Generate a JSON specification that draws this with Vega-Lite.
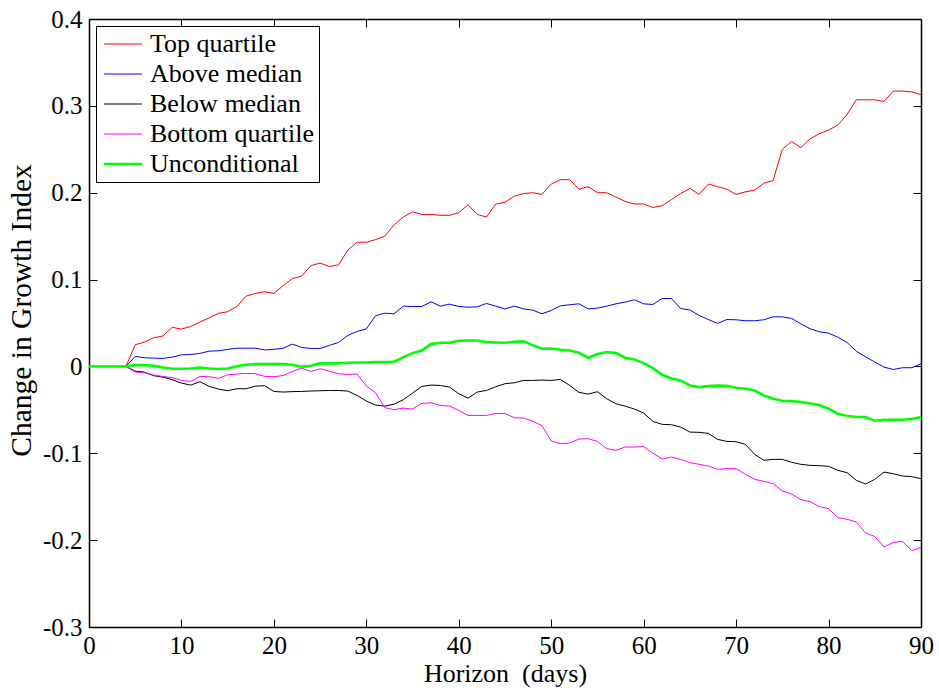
{
  "$schema": "https://vega.github.io/schema/vega-lite/v6.json",
  "width": 832,
  "height": 608,
  "autosize": {"type": "none"},
  "padding": {"left": 89, "top": 19, "right": 18, "bottom": 63},
  "background": "white",
  "config": {
    "view": {"stroke": null},
    "font": "Liberation Serif",
    "style": {
      "guide-label": {"font": "Liberation Serif", "fill": "black"},
      "guide-title": {"font": "Liberation Serif", "fill": "black", "fontWeight": "normal"}
    },
    "axis": {
      "grid": false,
      "domainColor": "black",
      "domainWidth": 1.5,
      "tickColor": "black",
      "tickWidth": 1,
      "tickSize": -8,
      "labelFont": "Liberation Serif",
      "labelFontSize": 25,
      "labelColor": "black",
      "titleFont": "Liberation Serif",
      "titleFontSize": 26,
      "titleFontWeight": "normal",
      "titleColor": "black"
    },
    "legend": {
      "orient": "none",
      "legendX": 7,
      "legendY": 7,
      "strokeColor": "black",
      "fillColor": "white",
      "padding": 5,
      "labelFont": "Liberation Serif",
      "labelFontSize": 26,
      "labelColor": "black",
      "labelLimit": 400,
      "labelOffset": 14,
      "symbolOffset": 9,
      "rowPadding": 4,
      "symbolType": "M-2,0H2",
      "symbolSize": 361,
      "symbolFillColor": "transparent",
      "title": null
    }
  },
  "data": {
    "values": [
      {"h":0,"Top quartile":0,"Above median":0,"Below median":0,"Bottom quartile":0,"Unconditional":0},
      {"h":1,"Top quartile":0,"Above median":0,"Below median":0,"Bottom quartile":0,"Unconditional":0},
      {"h":2,"Top quartile":0,"Above median":0,"Below median":0,"Bottom quartile":0,"Unconditional":0},
      {"h":3,"Top quartile":0,"Above median":0,"Below median":0,"Bottom quartile":0,"Unconditional":0},
      {"h":4,"Top quartile":0,"Above median":0,"Below median":0,"Bottom quartile":0,"Unconditional":0},
      {"h":5,"Top quartile":0.025,"Above median":0.0115,"Below median":-0.0054,"Bottom quartile":-0.0065,"Unconditional":0.0015},
      {"h":6,"Top quartile":0.028,"Above median":0.010,"Below median":-0.0065,"Bottom quartile":-0.0073,"Unconditional":0.0015},
      {"h":7,"Top quartile":0.033,"Above median":0.0096,"Below median":-0.0107,"Bottom quartile":-0.010,"Unconditional":0.0008},
      {"h":8,"Top quartile":0.035,"Above median":0.0092,"Below median":-0.0123,"Bottom quartile":-0.0115,"Unconditional":-0.0012},
      {"h":9,"Top quartile":0.045,"Above median":0.0107,"Below median":-0.0153,"Bottom quartile":-0.013,"Unconditional":-0.0027},
      {"h":10,"Top quartile":0.043,"Above median":0.0134,"Below median":-0.0192,"Bottom quartile":-0.0161,"Unconditional":-0.0027},
      {"h":11,"Top quartile":0.046,"Above median":0.0138,"Below median":-0.0215,"Bottom quartile":-0.0173,"Unconditional":-0.0023},
      {"h":12,"Top quartile":0.051,"Above median":0.015,"Below median":-0.0176,"Bottom quartile":-0.0115,"Unconditional":-0.0012},
      {"h":13,"Top quartile":0.056,"Above median":0.0176,"Below median":-0.023,"Bottom quartile":-0.0119,"Unconditional":-0.0023},
      {"h":14,"Top quartile":0.061,"Above median":0.018,"Below median":-0.0261,"Bottom quartile":-0.0138,"Unconditional":-0.003},
      {"h":15,"Top quartile":0.063,"Above median":0.0196,"Below median":-0.028,"Bottom quartile":-0.0096,"Unconditional":-0.0023},
      {"h":16,"Top quartile":0.069,"Above median":0.021,"Below median":-0.0257,"Bottom quartile":-0.0088,"Unconditional":0.0003},
      {"h":17,"Top quartile":0.081,"Above median":0.021,"Below median":-0.0257,"Bottom quartile":-0.008,"Unconditional":0.002},
      {"h":18,"Top quartile":0.084,"Above median":0.021,"Below median":-0.0227,"Bottom quartile":-0.0084,"Unconditional":0.0027},
      {"h":19,"Top quartile":0.086,"Above median":0.019,"Below median":-0.0222,"Bottom quartile":-0.0115,"Unconditional":0.0027},
      {"h":20,"Top quartile":0.084,"Above median":0.0196,"Below median":-0.0288,"Bottom quartile":-0.0119,"Unconditional":0.0027},
      {"h":21,"Top quartile":0.093,"Above median":0.021,"Below median":-0.0295,"Bottom quartile":-0.0105,"Unconditional":0.0027},
      {"h":22,"Top quartile":0.101,"Above median":0.0257,"Below median":-0.029,"Bottom quartile":-0.0058,"Unconditional":0.002},
      {"h":23,"Top quartile":0.104,"Above median":0.0219,"Below median":-0.0288,"Bottom quartile":-0.0019,"Unconditional":-0.0004},
      {"h":24,"Top quartile":0.116,"Above median":0.0207,"Below median":-0.0283,"Bottom quartile":-0.0058,"Unconditional":0.0008},
      {"h":25,"Top quartile":0.119,"Above median":0.0207,"Below median":-0.028,"Bottom quartile":-0.0027,"Unconditional":0.0038},
      {"h":26,"Top quartile":0.115,"Above median":0.0242,"Below median":-0.0277,"Bottom quartile":-0.0054,"Unconditional":0.0035},
      {"h":27,"Top quartile":0.117,"Above median":0.0276,"Below median":-0.0277,"Bottom quartile":-0.0084,"Unconditional":0.0035},
      {"h":28,"Top quartile":0.134,"Above median":0.0357,"Below median":-0.0284,"Bottom quartile":-0.0092,"Unconditional":0.0042},
      {"h":29,"Top quartile":0.143,"Above median":0.0403,"Below median":-0.0334,"Bottom quartile":-0.0088,"Unconditional":0.0046},
      {"h":30,"Top quartile":0.143,"Above median":0.0433,"Below median":-0.0399,"Bottom quartile":-0.0227,"Unconditional":0.0046},
      {"h":31,"Top quartile":0.146,"Above median":0.0583,"Below median":-0.0445,"Bottom quartile":-0.0303,"Unconditional":0.005},
      {"h":32,"Top quartile":0.150,"Above median":0.0613,"Below median":-0.0457,"Bottom quartile":-0.0475,"Unconditional":0.005},
      {"h":33,"Top quartile":0.163,"Above median":0.0606,"Below median":-0.0434,"Bottom quartile":-0.0498,"Unconditional":0.0054},
      {"h":34,"Top quartile":0.172,"Above median":0.0694,"Below median":-0.0383,"Bottom quartile":-0.048,"Unconditional":0.0107},
      {"h":35,"Top quartile":0.178,"Above median":0.069,"Below median":-0.0307,"Bottom quartile":-0.0491,"Unconditional":0.0153},
      {"h":36,"Top quartile":0.175,"Above median":0.069,"Below median":-0.023,"Bottom quartile":-0.0426,"Unconditional":0.0184},
      {"h":37,"Top quartile":0.175,"Above median":0.0744,"Below median":-0.0215,"Bottom quartile":-0.0418,"Unconditional":0.0257},
      {"h":38,"Top quartile":0.174,"Above median":0.0694,"Below median":-0.0219,"Bottom quartile":-0.0449,"Unconditional":0.0272},
      {"h":39,"Top quartile":0.174,"Above median":0.0717,"Below median":-0.0238,"Bottom quartile":-0.0457,"Unconditional":0.0272},
      {"h":40,"Top quartile":0.177,"Above median":0.069,"Below median":-0.0314,"Bottom quartile":-0.0506,"Unconditional":0.0295},
      {"h":41,"Top quartile":0.186,"Above median":0.0682,"Below median":-0.0365,"Bottom quartile":-0.0564,"Unconditional":0.0299},
      {"h":42,"Top quartile":0.175,"Above median":0.0686,"Below median":-0.0295,"Bottom quartile":-0.0564,"Unconditional":0.0299},
      {"h":43,"Top quartile":0.172,"Above median":0.0725,"Below median":-0.0276,"Bottom quartile":-0.0564,"Unconditional":0.028},
      {"h":44,"Top quartile":0.187,"Above median":0.0694,"Below median":-0.0234,"Bottom quartile":-0.0541,"Unconditional":0.0276},
      {"h":45,"Top quartile":0.189,"Above median":0.0663,"Below median":-0.0199,"Bottom quartile":-0.0541,"Unconditional":0.0272},
      {"h":46,"Top quartile":0.196,"Above median":0.0694,"Below median":-0.0188,"Bottom quartile":-0.059,"Unconditional":0.0284},
      {"h":47,"Top quartile":0.199,"Above median":0.0663,"Below median":-0.0161,"Bottom quartile":-0.0594,"Unconditional":0.0288},
      {"h":48,"Top quartile":0.200,"Above median":0.0648,"Below median":-0.0161,"Bottom quartile":-0.0629,"Unconditional":0.0245},
      {"h":49,"Top quartile":0.198,"Above median":0.0606,"Below median":-0.0157,"Bottom quartile":-0.0683,"Unconditional":0.0203},
      {"h":50,"Top quartile":0.210,"Above median":0.0644,"Below median":-0.0161,"Bottom quartile":-0.0859,"Unconditional":0.0207},
      {"h":51,"Top quartile":0.215,"Above median":0.0698,"Below median":-0.015,"Bottom quartile":-0.089,"Unconditional":0.0192},
      {"h":52,"Top quartile":0.215,"Above median":0.071,"Below median":-0.0219,"Bottom quartile":-0.0882,"Unconditional":0.0184},
      {"h":53,"Top quartile":0.204,"Above median":0.0721,"Below median":-0.0299,"Bottom quartile":-0.0836,"Unconditional":0.0157},
      {"h":54,"Top quartile":0.207,"Above median":0.0663,"Below median":-0.0318,"Bottom quartile":-0.0832,"Unconditional":0.010},
      {"h":55,"Top quartile":0.200,"Above median":0.0671,"Below median":-0.0291,"Bottom quartile":-0.0863,"Unconditional":0.0142},
      {"h":56,"Top quartile":0.200,"Above median":0.0694,"Below median":-0.0372,"Bottom quartile":-0.0947,"Unconditional":0.0165},
      {"h":57,"Top quartile":0.195,"Above median":0.0721,"Below median":-0.043,"Bottom quartile":-0.0966,"Unconditional":0.0153},
      {"h":58,"Top quartile":0.190,"Above median":0.074,"Below median":-0.0457,"Bottom quartile":-0.0928,"Unconditional":0.010},
      {"h":59,"Top quartile":0.187,"Above median":0.0767,"Below median":-0.0491,"Bottom quartile":-0.0928,"Unconditional":0.008},
      {"h":60,"Top quartile":0.187,"Above median":0.0721,"Below median":-0.0537,"Bottom quartile":-0.0924,"Unconditional":0.0038},
      {"h":61,"Top quartile":0.183,"Above median":0.0713,"Below median":-0.0633,"Bottom quartile":-0.0997,"Unconditional":-0.0019},
      {"h":62,"Top quartile":0.185,"Above median":0.0782,"Below median":-0.0667,"Bottom quartile":-0.1066,"Unconditional":-0.0096},
      {"h":63,"Top quartile":0.192,"Above median":0.0782,"Below median":-0.0671,"Bottom quartile":-0.1043,"Unconditional":-0.0138},
      {"h":64,"Top quartile":0.199,"Above median":0.0667,"Below median":-0.0698,"Bottom quartile":-0.107,"Unconditional":-0.0161},
      {"h":65,"Top quartile":0.205,"Above median":0.065,"Below median":-0.0756,"Bottom quartile":-0.1108,"Unconditional":-0.0219},
      {"h":66,"Top quartile":0.198,"Above median":0.0587,"Below median":-0.0759,"Bottom quartile":-0.1127,"Unconditional":-0.0238},
      {"h":67,"Top quartile":0.210,"Above median":0.054,"Below median":-0.0771,"Bottom quartile":-0.1147,"Unconditional":-0.0227},
      {"h":68,"Top quartile":0.207,"Above median":0.0495,"Below median":-0.084,"Bottom quartile":-0.1185,"Unconditional":-0.0219},
      {"h":69,"Top quartile":0.204,"Above median":0.054,"Below median":-0.0863,"Bottom quartile":-0.1177,"Unconditional":-0.0223},
      {"h":70,"Top quartile":0.198,"Above median":0.0537,"Below median":-0.0867,"Bottom quartile":-0.1177,"Unconditional":-0.0245},
      {"h":71,"Top quartile":0.201,"Above median":0.0526,"Below median":-0.0897,"Bottom quartile":-0.1242,"Unconditional":-0.0257},
      {"h":72,"Top quartile":0.203,"Above median":0.0526,"Below median":-0.1012,"Bottom quartile":-0.130,"Unconditional":-0.0276},
      {"h":73,"Top quartile":0.211,"Above median":0.0537,"Below median":-0.1081,"Bottom quartile":-0.1323,"Unconditional":-0.0334},
      {"h":74,"Top quartile":0.214,"Above median":0.0571,"Below median":-0.107,"Bottom quartile":-0.135,"Unconditional":-0.0372},
      {"h":75,"Top quartile":0.250,"Above median":0.0571,"Below median":-0.107,"Bottom quartile":-0.1434,"Unconditional":-0.0395},
      {"h":76,"Top quartile":0.259,"Above median":0.0552,"Below median":-0.1104,"Bottom quartile":-0.1469,"Unconditional":-0.0399},
      {"h":77,"Top quartile":0.252,"Above median":0.0491,"Below median":-0.1127,"Bottom quartile":-0.1534,"Unconditional":-0.041},
      {"h":78,"Top quartile":0.262,"Above median":0.0434,"Below median":-0.1139,"Bottom quartile":-0.1557,"Unconditional":-0.0426},
      {"h":79,"Top quartile":0.268,"Above median":0.0399,"Below median":-0.1143,"Bottom quartile":-0.1614,"Unconditional":-0.0445},
      {"h":80,"Top quartile":0.272,"Above median":0.0383,"Below median":-0.115,"Bottom quartile":-0.1637,"Unconditional":-0.0487},
      {"h":81,"Top quartile":0.278,"Above median":0.0337,"Below median":-0.1196,"Bottom quartile":-0.174,"Unconditional":-0.0545},
      {"h":82,"Top quartile":0.290,"Above median":0.0276,"Below median":-0.1223,"Bottom quartile":-0.176,"Unconditional":-0.0567},
      {"h":83,"Top quartile":0.307,"Above median":0.0176,"Below median":-0.1311,"Bottom quartile":-0.1791,"Unconditional":-0.0583},
      {"h":84,"Top quartile":0.307,"Above median":0.0111,"Below median":-0.1354,"Bottom quartile":-0.1917,"Unconditional":-0.0583},
      {"h":85,"Top quartile":0.307,"Above median":0.005,"Below median":-0.130,"Bottom quartile":-0.1959,"Unconditional":-0.0625},
      {"h":86,"Top quartile":0.305,"Above median":-0.0008,"Below median":-0.1216,"Bottom quartile":-0.2079,"Unconditional":-0.0614},
      {"h":87,"Top quartile":0.317,"Above median":-0.0035,"Below median":-0.1235,"Bottom quartile":-0.2028,"Unconditional":-0.0614},
      {"h":88,"Top quartile":0.317,"Above median":-0.0015,"Below median":-0.1262,"Bottom quartile":-0.2013,"Unconditional":-0.0614},
      {"h":89,"Top quartile":0.316,"Above median":-0.0015,"Below median":-0.1269,"Bottom quartile":-0.212,"Unconditional":-0.0606},
      {"h":90,"Top quartile":0.313,"Above median":0.003,"Below median":-0.1292,"Bottom quartile":-0.2086,"Unconditional":-0.0583}
    ]
  },
  "transform": [
    {"fold": ["Top quartile", "Above median", "Below median", "Bottom quartile", "Unconditional"], "as": ["series", "value"]}
  ],
  "layer": [
    {
      "mark": {"type": "line", "opacity": 0},
      "encoding": {
        "x": {"field": "h", "type": "quantitative", "scale": {"domain": [0, 90], "nice": false},
              "axis": {"orient": "top", "labels": false, "title": null, "values": [0,10,20,30,40,50,60,70,80,90]}},
        "y": {"field": "value", "type": "quantitative", "scale": {"domain": [-0.3, 0.4], "nice": false},
              "axis": {"orient": "right", "labels": false, "title": null, "values": [-0.3,-0.2,-0.1,0,0.1,0.2,0.3,0.4]}},
        "detail": {"field": "series", "type": "nominal"}
      }
    },
    {
      "mark": {"type": "line", "clip": true},
      "encoding": {
        "x": {"field": "h", "type": "quantitative", "scale": {"domain": [0, 90], "nice": false},
              "axis": {"orient": "bottom", "title": "Horizon\u00a0 (days)", "titlePadding": 2, "labelPadding": 14,
                       "labelFlush": false, "labelOverlap": false,
                       "labelFont": "Liberation Serif", "titleFont": "Liberation Serif",
                       "values": [0,10,20,30,40,50,60,70,80,90]}},
        "y": {"field": "value", "type": "quantitative", "scale": {"domain": [-0.3, 0.4], "nice": false},
              "axis": {"orient": "left", "title": "Change in Growth Index", "titlePadding": 6, "labelPadding": 15,
                       "titleFontSize": 29.5, "titleY": 291, "labelFlush": false, "labelOverlap": false,
                       "labelFont": "Liberation Serif", "titleFont": "Liberation Serif",
                       "values": [-0.3,-0.2,-0.1,0,0.1,0.2,0.3,0.4],
                       "labelExpr": "datum.value == 0 ? '0' : replace(format(datum.value, '.1f'), '\u2212', '-')"}},
        "color": {"field": "series", "type": "nominal",
                  "scale": {"domain": ["Top quartile", "Above median", "Below median", "Bottom quartile", "Unconditional"],
                            "range": ["#ff0000", "#0000ff", "#000000", "#ff00ff", "#00ff00"]},
                  "legend": {"encode": {"symbols": {"update": {"strokeWidth": {"signal": "datum.value === 'Unconditional' ? 2.6 : 1"}}}}}},
        "strokeWidth": {"condition": {"test": "datum.series === 'Unconditional'", "value": 2.6}, "value": 1}
      }
    }
  ],
  "resolve": {"axis": {"x": "independent", "y": "independent"}}
}
